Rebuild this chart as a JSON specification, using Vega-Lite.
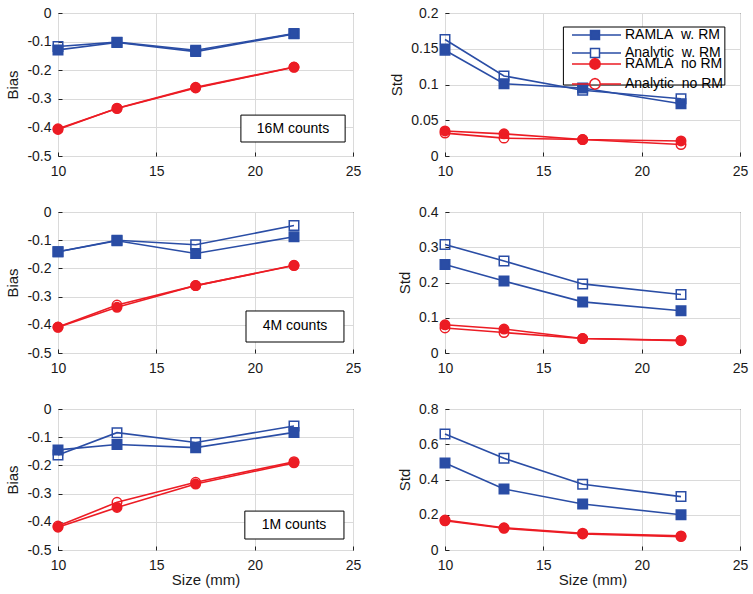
{
  "$schema": "https://vega.github.io/schema/vega-lite/v6.json",
  "padding": {"left": 5, "top": 5, "right": 2, "bottom": 2},
  "background": "white",
  "config": {
    "font": "Liberation Sans",
    "view": {"stroke": "#000", "strokeWidth": 1},
    "axis": {
      "grid": true, "gridColor": "#dadada", "gridWidth": 1, "labelFlush": false,
      "domain": false, "ticks": true, "tickSize": -4, "tickColor": "#222",
      "labelFont": "Liberation Sans", "labelFontSize": 14, "labelColor": "#1a1a1a",
      "titleFont": "Liberation Sans", "titleFontSize": 15, "titleFontWeight": "normal", "titleColor": "#1a1a1a"
    },
    "axisX": {"labelPadding": 12, "titlePadding": 0},
    "axisY": {"labelPadding": 11, "titlePadding": 6}
  },
  "data": {"values": [
    {"counts": "16M", "metric": "Bias", "series": "RAMLA w. RM", "size": 10, "value": -0.129},
    {"counts": "16M", "metric": "Bias", "series": "RAMLA w. RM", "size": 13, "value": -0.103},
    {"counts": "16M", "metric": "Bias", "series": "RAMLA w. RM", "size": 17, "value": -0.135},
    {"counts": "16M", "metric": "Bias", "series": "RAMLA w. RM", "size": 22, "value": -0.073},
    {"counts": "16M", "metric": "Bias", "series": "Analytic w. RM", "size": 10, "value": -0.117},
    {"counts": "16M", "metric": "Bias", "series": "Analytic w. RM", "size": 13, "value": -0.102},
    {"counts": "16M", "metric": "Bias", "series": "Analytic w. RM", "size": 17, "value": -0.130},
    {"counts": "16M", "metric": "Bias", "series": "Analytic w. RM", "size": 22, "value": -0.072},
    {"counts": "16M", "metric": "Bias", "series": "RAMLA no RM", "size": 10, "value": -0.407},
    {"counts": "16M", "metric": "Bias", "series": "RAMLA no RM", "size": 13, "value": -0.333},
    {"counts": "16M", "metric": "Bias", "series": "RAMLA no RM", "size": 17, "value": -0.260},
    {"counts": "16M", "metric": "Bias", "series": "RAMLA no RM", "size": 22, "value": -0.189},
    {"counts": "16M", "metric": "Bias", "series": "Analytic no RM", "size": 10, "value": -0.405},
    {"counts": "16M", "metric": "Bias", "series": "Analytic no RM", "size": 13, "value": -0.334},
    {"counts": "16M", "metric": "Bias", "series": "Analytic no RM", "size": 17, "value": -0.262},
    {"counts": "16M", "metric": "Bias", "series": "Analytic no RM", "size": 22, "value": -0.190},

    {"counts": "16M", "metric": "Std", "series": "RAMLA w. RM", "size": 10, "value": 0.148},
    {"counts": "16M", "metric": "Std", "series": "RAMLA w. RM", "size": 13, "value": 0.101},
    {"counts": "16M", "metric": "Std", "series": "RAMLA w. RM", "size": 17, "value": 0.095},
    {"counts": "16M", "metric": "Std", "series": "RAMLA w. RM", "size": 22, "value": 0.073},
    {"counts": "16M", "metric": "Std", "series": "Analytic w. RM", "size": 10, "value": 0.163},
    {"counts": "16M", "metric": "Std", "series": "Analytic w. RM", "size": 13, "value": 0.112},
    {"counts": "16M", "metric": "Std", "series": "Analytic w. RM", "size": 17, "value": 0.092},
    {"counts": "16M", "metric": "Std", "series": "Analytic w. RM", "size": 22, "value": 0.080},
    {"counts": "16M", "metric": "Std", "series": "RAMLA no RM", "size": 10, "value": 0.035},
    {"counts": "16M", "metric": "Std", "series": "RAMLA no RM", "size": 13, "value": 0.031},
    {"counts": "16M", "metric": "Std", "series": "RAMLA no RM", "size": 17, "value": 0.023},
    {"counts": "16M", "metric": "Std", "series": "RAMLA no RM", "size": 22, "value": 0.021},
    {"counts": "16M", "metric": "Std", "series": "Analytic no RM", "size": 10, "value": 0.032},
    {"counts": "16M", "metric": "Std", "series": "Analytic no RM", "size": 13, "value": 0.025},
    {"counts": "16M", "metric": "Std", "series": "Analytic no RM", "size": 17, "value": 0.023},
    {"counts": "16M", "metric": "Std", "series": "Analytic no RM", "size": 22, "value": 0.016},

    {"counts": "4M", "metric": "Bias", "series": "RAMLA w. RM", "size": 10, "value": -0.141},
    {"counts": "4M", "metric": "Bias", "series": "RAMLA w. RM", "size": 13, "value": -0.102},
    {"counts": "4M", "metric": "Bias", "series": "RAMLA w. RM", "size": 17, "value": -0.147},
    {"counts": "4M", "metric": "Bias", "series": "RAMLA w. RM", "size": 22, "value": -0.088},
    {"counts": "4M", "metric": "Bias", "series": "Analytic w. RM", "size": 10, "value": -0.141},
    {"counts": "4M", "metric": "Bias", "series": "Analytic w. RM", "size": 13, "value": -0.100},
    {"counts": "4M", "metric": "Bias", "series": "Analytic w. RM", "size": 17, "value": -0.116},
    {"counts": "4M", "metric": "Bias", "series": "Analytic w. RM", "size": 22, "value": -0.048},
    {"counts": "4M", "metric": "Bias", "series": "RAMLA no RM", "size": 10, "value": -0.409},
    {"counts": "4M", "metric": "Bias", "series": "RAMLA no RM", "size": 13, "value": -0.338},
    {"counts": "4M", "metric": "Bias", "series": "RAMLA no RM", "size": 17, "value": -0.261},
    {"counts": "4M", "metric": "Bias", "series": "RAMLA no RM", "size": 22, "value": -0.190},
    {"counts": "4M", "metric": "Bias", "series": "Analytic no RM", "size": 10, "value": -0.408},
    {"counts": "4M", "metric": "Bias", "series": "Analytic no RM", "size": 13, "value": -0.330},
    {"counts": "4M", "metric": "Bias", "series": "Analytic no RM", "size": 17, "value": -0.261},
    {"counts": "4M", "metric": "Bias", "series": "Analytic no RM", "size": 22, "value": -0.189},

    {"counts": "4M", "metric": "Std", "series": "RAMLA w. RM", "size": 10, "value": 0.251},
    {"counts": "4M", "metric": "Std", "series": "RAMLA w. RM", "size": 13, "value": 0.204},
    {"counts": "4M", "metric": "Std", "series": "RAMLA w. RM", "size": 17, "value": 0.145},
    {"counts": "4M", "metric": "Std", "series": "RAMLA w. RM", "size": 22, "value": 0.120},
    {"counts": "4M", "metric": "Std", "series": "Analytic w. RM", "size": 10, "value": 0.308},
    {"counts": "4M", "metric": "Std", "series": "Analytic w. RM", "size": 13, "value": 0.261},
    {"counts": "4M", "metric": "Std", "series": "Analytic w. RM", "size": 17, "value": 0.196},
    {"counts": "4M", "metric": "Std", "series": "Analytic w. RM", "size": 22, "value": 0.166},
    {"counts": "4M", "metric": "Std", "series": "RAMLA no RM", "size": 10, "value": 0.080},
    {"counts": "4M", "metric": "Std", "series": "RAMLA no RM", "size": 13, "value": 0.068},
    {"counts": "4M", "metric": "Std", "series": "RAMLA no RM", "size": 17, "value": 0.041},
    {"counts": "4M", "metric": "Std", "series": "RAMLA no RM", "size": 22, "value": 0.035},
    {"counts": "4M", "metric": "Std", "series": "Analytic no RM", "size": 10, "value": 0.071},
    {"counts": "4M", "metric": "Std", "series": "Analytic no RM", "size": 13, "value": 0.058},
    {"counts": "4M", "metric": "Std", "series": "Analytic no RM", "size": 17, "value": 0.041},
    {"counts": "4M", "metric": "Std", "series": "Analytic no RM", "size": 22, "value": 0.036},

    {"counts": "1M", "metric": "Bias", "series": "RAMLA w. RM", "size": 10, "value": -0.145},
    {"counts": "1M", "metric": "Bias", "series": "RAMLA w. RM", "size": 13, "value": -0.126},
    {"counts": "1M", "metric": "Bias", "series": "RAMLA w. RM", "size": 17, "value": -0.137},
    {"counts": "1M", "metric": "Bias", "series": "RAMLA w. RM", "size": 22, "value": -0.083},
    {"counts": "1M", "metric": "Bias", "series": "Analytic w. RM", "size": 10, "value": -0.163},
    {"counts": "1M", "metric": "Bias", "series": "Analytic w. RM", "size": 13, "value": -0.084},
    {"counts": "1M", "metric": "Bias", "series": "Analytic w. RM", "size": 17, "value": -0.119},
    {"counts": "1M", "metric": "Bias", "series": "Analytic w. RM", "size": 22, "value": -0.060},
    {"counts": "1M", "metric": "Bias", "series": "RAMLA no RM", "size": 10, "value": -0.419},
    {"counts": "1M", "metric": "Bias", "series": "RAMLA no RM", "size": 13, "value": -0.349},
    {"counts": "1M", "metric": "Bias", "series": "RAMLA no RM", "size": 17, "value": -0.266},
    {"counts": "1M", "metric": "Bias", "series": "RAMLA no RM", "size": 22, "value": -0.191},
    {"counts": "1M", "metric": "Bias", "series": "Analytic no RM", "size": 10, "value": -0.415},
    {"counts": "1M", "metric": "Bias", "series": "Analytic no RM", "size": 13, "value": -0.331},
    {"counts": "1M", "metric": "Bias", "series": "Analytic no RM", "size": 17, "value": -0.260},
    {"counts": "1M", "metric": "Bias", "series": "Analytic no RM", "size": 22, "value": -0.187},

    {"counts": "1M", "metric": "Std", "series": "RAMLA w. RM", "size": 10, "value": 0.494},
    {"counts": "1M", "metric": "Std", "series": "RAMLA w. RM", "size": 13, "value": 0.346},
    {"counts": "1M", "metric": "Std", "series": "RAMLA w. RM", "size": 17, "value": 0.261},
    {"counts": "1M", "metric": "Std", "series": "RAMLA w. RM", "size": 22, "value": 0.200},
    {"counts": "1M", "metric": "Std", "series": "Analytic w. RM", "size": 10, "value": 0.658},
    {"counts": "1M", "metric": "Std", "series": "Analytic w. RM", "size": 13, "value": 0.520},
    {"counts": "1M", "metric": "Std", "series": "Analytic w. RM", "size": 17, "value": 0.373},
    {"counts": "1M", "metric": "Std", "series": "Analytic w. RM", "size": 22, "value": 0.303},
    {"counts": "1M", "metric": "Std", "series": "RAMLA no RM", "size": 10, "value": 0.166},
    {"counts": "1M", "metric": "Std", "series": "RAMLA no RM", "size": 13, "value": 0.123},
    {"counts": "1M", "metric": "Std", "series": "RAMLA no RM", "size": 17, "value": 0.091},
    {"counts": "1M", "metric": "Std", "series": "RAMLA no RM", "size": 22, "value": 0.076},
    {"counts": "1M", "metric": "Std", "series": "Analytic no RM", "size": 10, "value": 0.170},
    {"counts": "1M", "metric": "Std", "series": "Analytic no RM", "size": 13, "value": 0.126},
    {"counts": "1M", "metric": "Std", "series": "Analytic no RM", "size": 17, "value": 0.095},
    {"counts": "1M", "metric": "Std", "series": "Analytic no RM", "size": 22, "value": 0.080}
  ]},
  "columns": 2,
  "spacing": {"row": 56, "column": 92},
  "bounds": "flush",
  "concat": [
    {
      "width": 295, "height": 143,
      "encoding": {
        "x": {"field": "size", "type": "quantitative", "scale": {"domain": [10, 25]}, "axis": {"values": [10, 15, 20, 25], "title": null}},
        "y": {"field": "value", "type": "quantitative", "scale": {"domain": [-0.5, 0]}, "axis": {"values": [-0.5, -0.4, -0.3, -0.2, -0.1, 0], "title": "Bias", "labelExpr": "toString(round(datum.value * 100) / 100)"}}
      },
      "layer": [
        {"transform": [{"filter": "datum.counts === '16M' && datum.metric === 'Bias'"}],
         "mark": {"type": "line", "strokeWidth": 1.6},
         "encoding": {"color": {"field": "series", "type": "nominal", "scale": {"domain": ["RAMLA w. RM", "Analytic w. RM", "RAMLA no RM", "Analytic no RM"], "range": ["#2a4da5", "#2a4da5", "#ec1c24", "#ec1c24"]}, "legend": null}}},
        {"transform": [{"filter": "datum.counts === '16M' && datum.metric === 'Bias'"}],
         "mark": {"type": "point", "filled": true, "size": 90, "strokeWidth": 1.5, "opacity": 1},
         "encoding": {
           "shape": {"field": "series", "type": "nominal", "scale": {"domain": ["RAMLA w. RM", "Analytic w. RM", "RAMLA no RM", "Analytic no RM"], "range": ["square", "square", "circle", "circle"]}, "legend": null},
           "stroke": {"field": "series", "type": "nominal", "scale": {"domain": ["RAMLA w. RM", "Analytic w. RM", "RAMLA no RM", "Analytic no RM"], "range": ["#2a4da5", "#2a4da5", "#ec1c24", "#ec1c24"]}, "legend": null},
           "fill": {"field": "series", "type": "nominal", "scale": {"domain": ["RAMLA w. RM", "Analytic w. RM", "RAMLA no RM", "Analytic no RM"], "range": ["#2a4da5", "transparent", "#ec1c24", "transparent"]}, "legend": null}
         }},
        {"transform": [{"filter": "datum.counts === '16M' && datum.metric === 'Bias' && datum.size === 10 && datum.series === 'RAMLA w. RM'"}],
         "mark": {"type": "rect", "fill": "white", "stroke": "#000", "strokeWidth": 1},
         "encoding": {"x": {"datum": 19.3, "type": "quantitative"}, "x2": {"datum": 24.6}, "y": {"datum": -0.357, "type": "quantitative"}, "y2": {"datum": -0.451}}},
        {"transform": [{"filter": "datum.counts === '16M' && datum.metric === 'Bias' && datum.size === 10 && datum.series === 'RAMLA w. RM'"}],
         "mark": {"type": "text", "fontSize": 14, "font": "Liberation Sans", "color": "#000", "align": "center", "baseline": "middle"},
         "encoding": {"x": {"datum": 21.95, "type": "quantitative"}, "y": {"datum": -0.404, "type": "quantitative"}, "text": {"value": "16M counts"}}}
      ]
    },
    {
      "width": 295, "height": 143,
      "encoding": {
        "x": {"field": "size", "type": "quantitative", "scale": {"domain": [10, 25]}, "axis": {"values": [10, 15, 20, 25], "title": null}},
        "y": {"field": "value", "type": "quantitative", "scale": {"domain": [0, 0.2]}, "axis": {"values": [0, 0.05, 0.1, 0.15, 0.2], "title": "Std", "labelExpr": "toString(round(datum.value * 100) / 100)"}}
      },
      "layer": [
        {"transform": [{"filter": "datum.counts === '16M' && datum.metric === 'Std'"}],
         "mark": {"type": "line", "strokeWidth": 1.6},
         "encoding": {"color": {"field": "series", "type": "nominal", "scale": {"domain": ["RAMLA w. RM", "Analytic w. RM", "RAMLA no RM", "Analytic no RM"], "range": ["#2a4da5", "#2a4da5", "#ec1c24", "#ec1c24"]}, "legend": null}}},
        {"transform": [{"filter": "datum.counts === '16M' && datum.metric === 'Std' && datum.size === 10 && datum.series === 'RAMLA w. RM'"}],
         "mark": {"type": "rect", "fill": "white", "stroke": "#000", "strokeWidth": 1},
         "encoding": {"x": {"datum": 16.02, "type": "quantitative"}, "x2": {"datum": 24.23}, "y": {"datum": 0.1804, "type": "quantitative"}, "y2": {"datum": 0.0993}}},
        {"transform": [{"filter": "datum.counts === '16M' && datum.metric === 'Std' && indexof(datum.series, 'w.') >= 0"}],
         "mark": {"type": "square", "filled": true, "size": 90, "strokeWidth": 1.5, "opacity": 1},
         "encoding": {
           "stroke": {"field": "series", "type": "nominal", "scale": {"domain": ["RAMLA w. RM", "Analytic w. RM"], "range": ["#2a4da5", "#2a4da5"]}},
           "fill": {"field": "series", "type": "nominal", "scale": {"domain": ["RAMLA w. RM", "Analytic w. RM"], "range": ["#2a4da5", "transparent"]},
             "legend": {
               "title": null, "orient": "none", "legendX": 143, "legendY": 14.9, "padding": 0,
               "labelFontSize": 14, "labelFont": "Liberation Sans", "labelColor": "#000",
               "symbolType": "M-4.6,0H-0.9M0.9,0H5.2M-0.9,-0.9H0.9V0.9H-0.9Z",
               "symbolSize": 100, "symbolStrokeWidth": 1.5, "labelOffset": 23,
               "labelExpr": "replace(datum.label, ' ', '\u00a0\u00a0')"
             }}
         }},
        {"transform": [{"filter": "datum.counts === '16M' && datum.metric === 'Std' && indexof(datum.series, 'no') >= 0"}],
         "mark": {"type": "circle", "filled": true, "size": 90, "strokeWidth": 1.5, "opacity": 1},
         "encoding": {
           "stroke": {"field": "series", "type": "nominal", "scale": {"domain": ["RAMLA no RM", "Analytic no RM"], "range": ["#ec1c24", "#ec1c24"]}},
           "fill": {"field": "series", "type": "nominal", "scale": {"domain": ["RAMLA no RM", "Analytic no RM"], "range": ["#ec1c24", "transparent"]},
             "legend": {
               "title": null, "orient": "none", "legendX": 143, "legendY": 43.9, "padding": 0,
               "labelFontSize": 14, "labelFont": "Liberation Sans", "labelColor": "#000",
               "symbolType": "M-4.6,0H-1.05M1.05,0H5.2M1.05,0L0.909,0.525L0.525,0.909L0,1.05L-0.525,0.909L-0.909,0.525L-1.05,0L-0.909,-0.525L-0.525,-0.909L0,-1.05L0.525,-0.909L0.909,-0.525Z",
               "symbolSize": 100, "symbolStrokeWidth": 1.5, "labelOffset": 23,
               "labelExpr": "replace(datum.label, ' ', '\u00a0\u00a0')"
             }}
         }}
      ],
      "resolve": {"scale": {"fill": "independent", "stroke": "independent"}, "legend": {"fill": "independent", "stroke": "independent"}}
    },
    {
      "width": 295, "height": 141,
      "encoding": {
        "x": {"field": "size", "type": "quantitative", "scale": {"domain": [10, 25]}, "axis": {"values": [10, 15, 20, 25], "title": null}},
        "y": {"field": "value", "type": "quantitative", "scale": {"domain": [-0.5, 0]}, "axis": {"values": [-0.5, -0.4, -0.3, -0.2, -0.1, 0], "title": "Bias", "labelExpr": "toString(round(datum.value * 100) / 100)"}}
      },
      "layer": [
        {"transform": [{"filter": "datum.counts === '4M' && datum.metric === 'Bias'"}],
         "mark": {"type": "line", "strokeWidth": 1.6},
         "encoding": {"color": {"field": "series", "type": "nominal", "scale": {"domain": ["RAMLA w. RM", "Analytic w. RM", "RAMLA no RM", "Analytic no RM"], "range": ["#2a4da5", "#2a4da5", "#ec1c24", "#ec1c24"]}, "legend": null}}},
        {"transform": [{"filter": "datum.counts === '4M' && datum.metric === 'Bias'"}],
         "mark": {"type": "point", "filled": true, "size": 90, "strokeWidth": 1.5, "opacity": 1},
         "encoding": {
           "shape": {"field": "series", "type": "nominal", "scale": {"domain": ["RAMLA w. RM", "Analytic w. RM", "RAMLA no RM", "Analytic no RM"], "range": ["square", "square", "circle", "circle"]}, "legend": null},
           "stroke": {"field": "series", "type": "nominal", "scale": {"domain": ["RAMLA w. RM", "Analytic w. RM", "RAMLA no RM", "Analytic no RM"], "range": ["#2a4da5", "#2a4da5", "#ec1c24", "#ec1c24"]}, "legend": null},
           "fill": {"field": "series", "type": "nominal", "scale": {"domain": ["RAMLA w. RM", "Analytic w. RM", "RAMLA no RM", "Analytic no RM"], "range": ["#2a4da5", "transparent", "#ec1c24", "transparent"]}, "legend": null}
         }},
        {"transform": [{"filter": "datum.counts === '4M' && datum.metric === 'Bias' && datum.size === 10 && datum.series === 'RAMLA w. RM'"}],
         "mark": {"type": "rect", "fill": "white", "stroke": "#000", "strokeWidth": 1},
         "encoding": {"x": {"datum": 19.56, "type": "quantitative"}, "x2": {"datum": 24.54}, "y": {"datum": -0.351, "type": "quantitative"}, "y2": {"datum": -0.461}}},
        {"transform": [{"filter": "datum.counts === '4M' && datum.metric === 'Bias' && datum.size === 10 && datum.series === 'RAMLA w. RM'"}],
         "mark": {"type": "text", "fontSize": 14, "font": "Liberation Sans", "color": "#000", "align": "center", "baseline": "middle"},
         "encoding": {"x": {"datum": 22.05, "type": "quantitative"}, "y": {"datum": -0.406, "type": "quantitative"}, "text": {"value": "4M counts"}}}
      ]
    },
    {
      "width": 295, "height": 141,
      "encoding": {
        "x": {"field": "size", "type": "quantitative", "scale": {"domain": [10, 25]}, "axis": {"values": [10, 15, 20, 25], "title": null}},
        "y": {"field": "value", "type": "quantitative", "scale": {"domain": [0, 0.4]}, "axis": {"values": [0, 0.1, 0.2, 0.3, 0.4], "title": "Std", "labelExpr": "toString(round(datum.value * 100) / 100)"}}
      },
      "layer": [
        {"transform": [{"filter": "datum.counts === '4M' && datum.metric === 'Std'"}],
         "mark": {"type": "line", "strokeWidth": 1.6},
         "encoding": {"color": {"field": "series", "type": "nominal", "scale": {"domain": ["RAMLA w. RM", "Analytic w. RM", "RAMLA no RM", "Analytic no RM"], "range": ["#2a4da5", "#2a4da5", "#ec1c24", "#ec1c24"]}, "legend": null}}},
        {"transform": [{"filter": "datum.counts === '4M' && datum.metric === 'Std'"}],
         "mark": {"type": "point", "filled": true, "size": 90, "strokeWidth": 1.5, "opacity": 1},
         "encoding": {
           "shape": {"field": "series", "type": "nominal", "scale": {"domain": ["RAMLA w. RM", "Analytic w. RM", "RAMLA no RM", "Analytic no RM"], "range": ["square", "square", "circle", "circle"]}, "legend": null},
           "stroke": {"field": "series", "type": "nominal", "scale": {"domain": ["RAMLA w. RM", "Analytic w. RM", "RAMLA no RM", "Analytic no RM"], "range": ["#2a4da5", "#2a4da5", "#ec1c24", "#ec1c24"]}, "legend": null},
           "fill": {"field": "series", "type": "nominal", "scale": {"domain": ["RAMLA w. RM", "Analytic w. RM", "RAMLA no RM", "Analytic no RM"], "range": ["#2a4da5", "transparent", "#ec1c24", "transparent"]}, "legend": null}
         }}
      ]
    },
    {
      "width": 295, "height": 141,
      "encoding": {
        "x": {"field": "size", "type": "quantitative", "scale": {"domain": [10, 25]}, "axis": {"values": [10, 15, 20, 25], "title": "Size (mm)"}},
        "y": {"field": "value", "type": "quantitative", "scale": {"domain": [-0.5, 0]}, "axis": {"values": [-0.5, -0.4, -0.3, -0.2, -0.1, 0], "title": "Bias", "labelExpr": "toString(round(datum.value * 100) / 100)"}}
      },
      "layer": [
        {"transform": [{"filter": "datum.counts === '1M' && datum.metric === 'Bias'"}],
         "mark": {"type": "line", "strokeWidth": 1.6},
         "encoding": {"color": {"field": "series", "type": "nominal", "scale": {"domain": ["RAMLA w. RM", "Analytic w. RM", "RAMLA no RM", "Analytic no RM"], "range": ["#2a4da5", "#2a4da5", "#ec1c24", "#ec1c24"]}, "legend": null}}},
        {"transform": [{"filter": "datum.counts === '1M' && datum.metric === 'Bias'"}],
         "mark": {"type": "point", "filled": true, "size": 90, "strokeWidth": 1.5, "opacity": 1},
         "encoding": {
           "shape": {"field": "series", "type": "nominal", "scale": {"domain": ["RAMLA w. RM", "Analytic w. RM", "RAMLA no RM", "Analytic no RM"], "range": ["square", "square", "circle", "circle"]}, "legend": null},
           "stroke": {"field": "series", "type": "nominal", "scale": {"domain": ["RAMLA w. RM", "Analytic w. RM", "RAMLA no RM", "Analytic no RM"], "range": ["#2a4da5", "#2a4da5", "#ec1c24", "#ec1c24"]}, "legend": null},
           "fill": {"field": "series", "type": "nominal", "scale": {"domain": ["RAMLA w. RM", "Analytic w. RM", "RAMLA no RM", "Analytic no RM"], "range": ["#2a4da5", "transparent", "#ec1c24", "transparent"]}, "legend": null}
         }},
        {"transform": [{"filter": "datum.counts === '1M' && datum.metric === 'Bias' && datum.size === 10 && datum.series === 'RAMLA w. RM'"}],
         "mark": {"type": "rect", "fill": "white", "stroke": "#000", "strokeWidth": 1},
         "encoding": {"x": {"datum": 19.5, "type": "quantitative"}, "x2": {"datum": 24.54}, "y": {"datum": -0.362, "type": "quantitative"}, "y2": {"datum": -0.461}}},
        {"transform": [{"filter": "datum.counts === '1M' && datum.metric === 'Bias' && datum.size === 10 && datum.series === 'RAMLA w. RM'"}],
         "mark": {"type": "text", "fontSize": 14, "font": "Liberation Sans", "color": "#000", "align": "center", "baseline": "middle"},
         "encoding": {"x": {"datum": 22.0, "type": "quantitative"}, "y": {"datum": -0.411, "type": "quantitative"}, "text": {"value": "1M counts"}}}
      ]
    },
    {
      "width": 295, "height": 141,
      "encoding": {
        "x": {"field": "size", "type": "quantitative", "scale": {"domain": [10, 25]}, "axis": {"values": [10, 15, 20, 25], "title": "Size (mm)"}},
        "y": {"field": "value", "type": "quantitative", "scale": {"domain": [0, 0.8]}, "axis": {"values": [0, 0.2, 0.4, 0.6, 0.8], "title": "Std", "labelExpr": "toString(round(datum.value * 100) / 100)"}}
      },
      "layer": [
        {"transform": [{"filter": "datum.counts === '1M' && datum.metric === 'Std'"}],
         "mark": {"type": "line", "strokeWidth": 1.6},
         "encoding": {"color": {"field": "series", "type": "nominal", "scale": {"domain": ["RAMLA w. RM", "Analytic w. RM", "RAMLA no RM", "Analytic no RM"], "range": ["#2a4da5", "#2a4da5", "#ec1c24", "#ec1c24"]}, "legend": null}}},
        {"transform": [{"filter": "datum.counts === '1M' && datum.metric === 'Std'"}],
         "mark": {"type": "point", "filled": true, "size": 90, "strokeWidth": 1.5, "opacity": 1},
         "encoding": {
           "shape": {"field": "series", "type": "nominal", "scale": {"domain": ["RAMLA w. RM", "Analytic w. RM", "RAMLA no RM", "Analytic no RM"], "range": ["square", "square", "circle", "circle"]}, "legend": null},
           "stroke": {"field": "series", "type": "nominal", "scale": {"domain": ["RAMLA w. RM", "Analytic w. RM", "RAMLA no RM", "Analytic no RM"], "range": ["#2a4da5", "#2a4da5", "#ec1c24", "#ec1c24"]}, "legend": null},
           "fill": {"field": "series", "type": "nominal", "scale": {"domain": ["RAMLA w. RM", "Analytic w. RM", "RAMLA no RM", "Analytic no RM"], "range": ["#2a4da5", "transparent", "#ec1c24", "transparent"]}, "legend": null}
         }}
      ]
    }
  ],
  "resolve": {"scale": {"y": "independent", "x": "independent", "fill": "independent", "stroke": "independent", "shape": "independent", "color": "independent"}, "legend": {"stroke": "independent", "fill": "independent", "shape": "independent", "color": "independent"}}
}
